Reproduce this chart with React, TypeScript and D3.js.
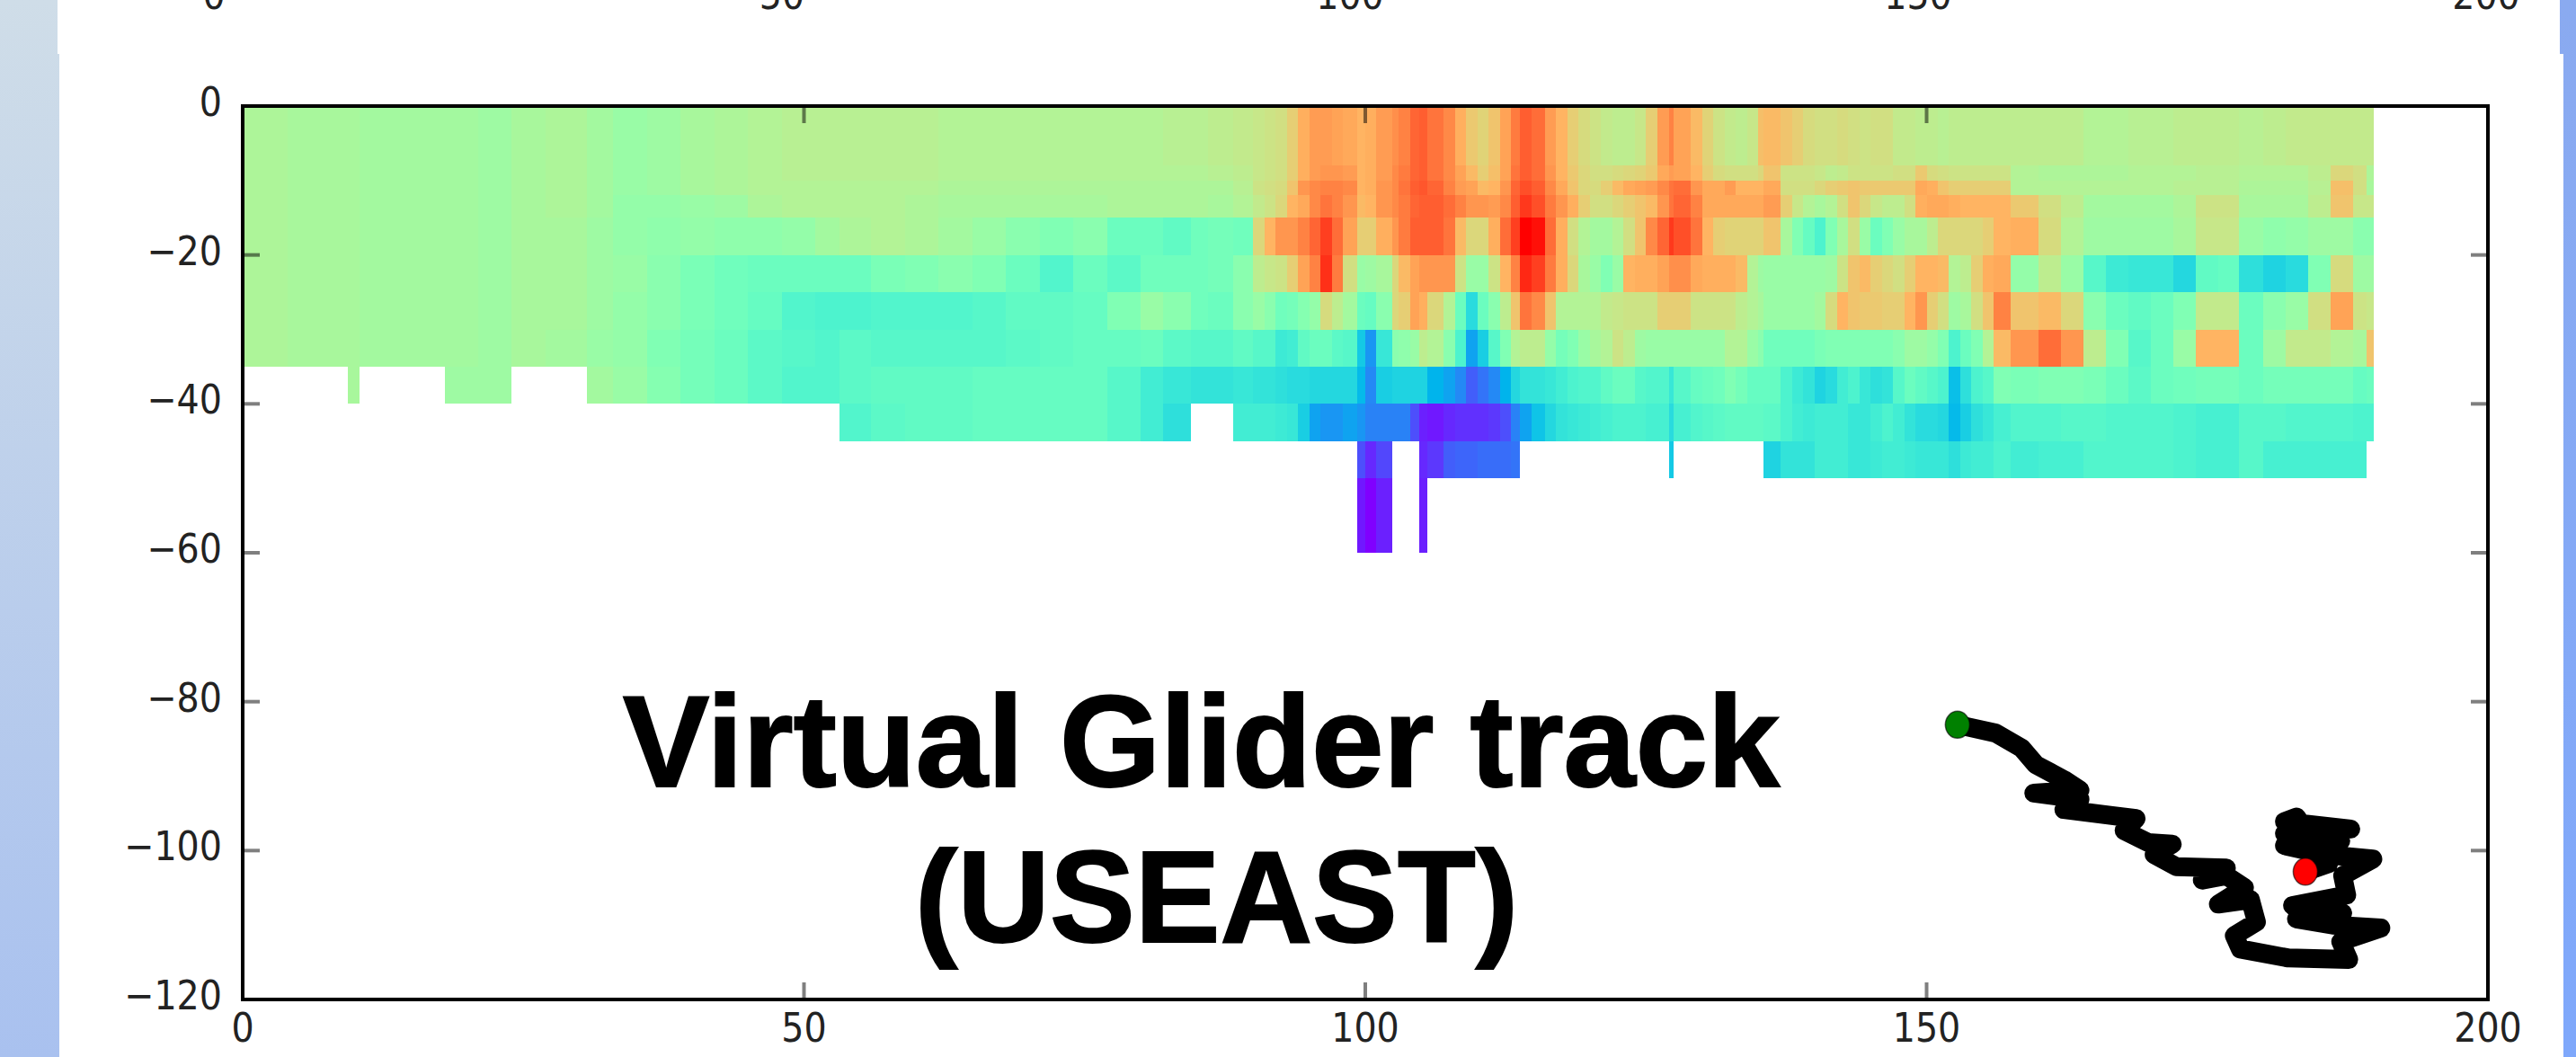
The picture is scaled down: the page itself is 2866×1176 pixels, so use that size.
import * as d3 from "d3";

const W = 2866;
const H = 1176;
const _ = null;

const xTicks = [0, 50, 100, 150, 200];
const yTicks = [0, -20, -40, -60, -80, -100, -120];
const titleLines = ["Virtual Glider track", "(USEAST)"];

// bottoms and tops of the depth bins (m)
const depthEdges = [0, 8, 10, 12, 15, 20, 25, 30, 35, 40, 45, 50, 60];

// the section is split in four stretches, each with its own column edges.
// values are the position on the rainbow colormap, 0-100
const edgesA = [0, 4, 8, 9.4, 10.4, 14, 18, 21, 23.9, 27, 30.7, 33, 36, 39, 42, 45, 48, 51, 53.2];
const heatA = [
  [59, 58, 58, 58, 57, 57, 57, 56, 58, 59, 57, 55, 56, 58, 59, 60, 61, 61],
  [59, 58, 58, 58, 57, 57, 57, 56, 58, 59, 57, 55, 56, 58, 59, 60, 61, 61],
  [59, 58, 58, 58, 57, 57, 57, 56, 58, 59, 57, 55, 56, 58, 59, 60, 60, 60],
  [59, 58, 58, 58, 57, 57, 57, 56, 58, 59, 57, 54, 54, 55, 56, 59, 60, 60],
  [59, 58, 58, 58, 57, 57, 57, 56, 58, 58, 56, 54, 53, 54, 53, 53, 54, 57],
  [59, 58, 58, 58, 57, 57, 57, 56, 58, 58, 56, 55, 52, 49, 47, 46, 46, 46],
  [59, 58, 58, 58, 57, 57, 57, 56, 58, 58, 56, 54, 52, 49, 47, 45, 41, 40],
  [59, 58, 58, 58, 57, 57, 57, 56, 58, 57, 55, 54, 50, 48, 46, 43, 42, 41],
  [_, _, _, 58, _, _, 56, 56, _, _, 57, 55, 51, 48, 46, 43, 41, 41],
  [],
  [],
  [],
];

const edgesB = [53.2, 56, 59, 62, 65, 68, 71, 74, 77, 80, 82, 84.5, 86, 88.2, 90];
const heatB = [
  [61, 61, 61, 60, 60, 60, 60, 60, 60, 60, 61, 61, 62, 63],
  [61, 61, 61, 60, 60, 60, 60, 60, 60, 60, 60, 60, 61, 62],
  [60, 60, 60, 59, 59, 59, 59, 59, 59, 59, 59, 59, 59, 61],
  [60, 60, 59, 58, 58, 58, 58, 58, 59, 59, 59, 59, 58, 60],
  [59, 60, 59, 57, 55, 52, 50, 52, 46, 46, 44, 47, 48, 47],
  [46, 49, 50, 52, 50, 46, 41, 46, 43, 47, 47, 47, 48, 52],
  [40, 41, 41, 41, 42, 44, 44, 45, 50, 55, 52, 47, 46, 52],
  [43, 42, 42, 42, 42, 43, 44, 45, 45, 46, 43, 42, 42, 44],
  [43, 44, 44, 44, 45, 45, 45, 45, 42, 38, 36, 35, 35, 36],
  [41, 43, 44, 44, 45, 45, 45, 45, 42, 38, 34, _, _, 38],
  [],
  [],
];

const edgesC = [
  90, 91, 92, 93, 94, 95, 96, 97, 98, 99.3, 100, 101, 102.4, 103, 104, 104.8, 105.5, 107, 108, 109,
  110, 111, 112, 113, 113.8, 114.8, 116, 117, 118, 119, 120, 121, 122, 123, 124, 125, 126, 127.1, 127.5, 129,
  130, 131, 132, 133, 134, 135, 135.5, 137, 138, 139, 140, 141, 142, 143, 144, 145, 146, 147, 148, 149,
  150, 151, 152, 153, 154, 155, 156, 157.5,
];
const heatC = [
  [
    64, 65, 66, 70, 76, 79, 79, 78, 77, 75,
    76, 79, 81, 83, 87, 88, 85, 82, 76, 71,
    69, 72, 78, 84, 88, 86, 79, 75, 70, 67,
    65, 63, 62, 62, 64, 70, 79, 83, 78, 74,
    69, 65, 63, 62, 64, 73, 74, 72, 70, 67,
    66, 66, 67, 66, 65, 66, 66, 63, 63, 62,
    62, 61, 62, 62, 62, 62, 62,
  ],
  [
    64, 65, 66, 70, 76, 79, 80, 80, 79, 75,
    76, 79, 82, 84, 87, 88, 85, 82, 78, 74,
    70, 73, 78, 85, 88, 86, 80, 75, 71, 68,
    66, 66, 67, 68, 69, 71, 77, 79, 78, 75,
    70, 67, 66, 66, 66, 68, 72, 65, 65, 65,
    64, 62, 63, 65, 65, 65, 65, 66, 66, 71,
    67, 66, 65, 65, 65, 65, 65,
  ],
  [
    65, 66, 67, 72, 80, 82, 83, 83, 82, 75,
    76, 80, 82, 85, 88, 89, 87, 83, 79, 78,
    74, 75, 80, 87, 90, 88, 82, 77, 72, 68,
    67, 70, 74, 77, 78, 79, 82, 85, 86, 80,
    77, 77, 79, 75, 75, 75, 77, 66, 66, 66,
    68, 70, 71, 72, 71, 71, 71, 71, 71, 77,
    76, 72, 70, 70, 70, 70, 70,
  ],
  [
    63, 65, 68, 75, 77, 82, 85, 83, 80, 74,
    75, 80, 82, 84, 87, 88, 88, 86, 83, 80,
    80, 79, 82, 88, 93, 90, 84, 80, 76, 70,
    66, 66, 68, 70, 72, 74, 80, 85, 87, 83,
    77, 77, 77, 77, 77, 77, 79, 70, 64, 60,
    58, 60, 66, 72, 68, 64, 62, 62, 66, 76,
    77, 77, 76, 75, 75, 75, 75,
  ],
  [
    68, 75, 80, 80, 83, 87, 92, 86, 78, 70,
    70, 76, 80, 84, 88, 88, 88, 85, 74, 68,
    68, 76, 86, 92, 100, 98, 86, 76, 66, 60,
    57, 57, 60, 66, 72, 82, 87, 93, 90, 85,
    75, 70, 69, 69, 69, 69, 72, 58, 50, 45,
    40, 50, 58, 66, 55, 46, 50, 55, 58, 58,
    62, 68, 68, 68, 68, 70, 75,
  ],
  [
    62, 64, 65, 70, 78, 83, 94, 84, 66, 55,
    56, 58, 68, 74, 78, 80, 80, 80, 65, 55,
    55, 65, 75, 83, 95, 92, 84, 76, 68, 58,
    55, 50, 55, 75, 76, 76, 78, 81, 81, 77,
    76, 76, 76, 74, 60, 56, 55, 55, 55, 55,
    55, 56, 65, 72, 74, 70, 68, 66, 70, 75,
    75, 74, 60, 62, 70, 76, 77,
  ],
  [
    55, 52, 47, 48, 51, 54, 67, 62, 57, 46,
    45, 52, 68, 70, 78, 76, 68, 60, 46, 33,
    46, 52, 62, 72, 85, 82, 72, 60, 60, 60,
    60, 63, 64, 65, 65, 65, 70, 70, 70, 65,
    65, 65, 65, 62, 60, 58, 55, 55, 55, 55,
    57, 67, 75, 72, 71, 71, 70, 70, 75, 80,
    70, 66, 56, 58, 66, 72, 83,
  ],
  [
    42, 42, 37, 38, 44, 46, 46, 43, 42, 29,
    20, 36, 52, 53, 55, 62, 60, 52, 40, 22,
    30, 42, 50, 60, 62, 62, 54, 48, 50, 55,
    58, 60, 65, 62, 56, 55, 55, 55, 55, 55,
    55, 55, 60, 60, 55, 52, 47, 47, 47, 47,
    49, 50, 50, 50, 50, 50, 50, 52, 56, 56,
    54, 50, 40, 46, 50, 60, 74,
  ],
  [
    35, 35, 34, 33, 33, 32, 32, 32, 32, 26,
    18, 30, 31, 31, 31, 31, 25, 22, 18, 12,
    15, 18, 25, 32, 35, 35, 36, 38, 40, 41,
    41, 44, 46, 46, 42, 41, 41, 36, 42, 45,
    46, 47, 50, 48, 45, 45, 45, 40, 37, 35,
    31, 33, 38, 40, 36, 34, 35, 42, 46, 44,
    42, 40, 27, 34, 40, 42, 50,
  ],
  [
    38, 38, 37, 36, 30, 22, 20, 20, 22, 20,
    17, 17, 17, 17, 10, 4, 3, 5, 6, 6,
    6, 7, 10, 17, 22, 28, 32, 35, 36, 37,
    38, 39, 40, 40, 40, 39, 39, 33, 39, 41,
    42, 43, 44, 44, 44, 44, 43, 40, 38, 37,
    38, 38, 38, 36, 36, 38, 40, 38, 35, 33,
    33, 32, 26, 30, 34, 36, 39,
  ],
  [
    _, _, _, _, _, _, _, _, _, 10,
    5, 9, _, _, _, 5, 7, 12, 13, 13,
    14, 14, 14, 15, _, _, _, _, _, _,
    _, _, _, _, _, _, _, 29, _, _,
    _, _, _, _, _, _, 31, 35, 35, 35,
    38, 38, 38, 36, 36, 37, 38, 38, 37, 36,
    36, 36, 34, 37, 38, 38, 40,
  ],
  [_, _, _, _, _, _, _, _, _, 3, 0, 4, _, _, _, 4],
];

const edgesD = [157.5, 160, 162, 164, 166, 168, 170, 172, 174, 176, 177.8, 180, 182, 184, 186, 188, 189.2, 189.8];
const heatD = [
  [62, 62, 62, 60, 60, 61, 61, 62, 62, 62, 61, 62, 63, 63, 63, 63, 63],
  [60, 59, 59, 59, 59, 60, 60, 60, 61, 61, 60, 60, 60, 62, 68, 66, 59],
  [60, 60, 60, 60, 60, 60, 60, 61, 61, 61, 59, 59, 59, 61, 73, 66, 58],
  [71, 66, 62, 57, 57, 57, 57, 59, 65, 65, 58, 58, 58, 62, 72, 64, 64],
  [76, 67, 60, 56, 56, 56, 56, 58, 64, 64, 55, 53, 54, 56, 56, 52, 52],
  [54, 62, 55, 42, 37, 36, 36, 32, 44, 45, 34, 31, 33, 50, 67, 56, 56],
  [72, 74, 68, 52, 46, 44, 46, 50, 63, 63, 46, 52, 55, 66, 78, 65, 64],
  [80, 86, 80, 62, 50, 42, 46, 55, 75, 75, 46, 56, 63, 63, 60, 58, 72],
  [49, 50, 50, 49, 46, 43, 46, 47, 48, 48, 46, 48, 48, 48, 48, 45, 46],
  [41, 41, 42, 42, 41, 41, 41, 40, 39, 39, 42, 42, 41, 41, 41, 40, 40],
  [38, 39, 39, 41, 41, 41, 41, 40, 39, 39, 42, 39, 39, 39, 39, 39],
  [],
];

const sections = [
  { edges: edgesA, rows: heatA },
  { edges: edgesB, rows: heatB },
  { edges: edgesC, rows: heatC },
  { edges: edgesD, rows: heatD },
];

// glider track, drawn over the same axes
const trackX = [
  152.75, 156.15, 158.47, 159.72, 162.23, 163.66, 159.55, 163.66, 162.23, 166.51, 168.66, 167.59, 169.73, 171.88, 170.27,
  172.23, 176.7, 174.56, 176.7, 178.31, 175.99, 178.84, 179.38, 177.41, 177.95, 182.24, 187.6, 186.89, 190.46, 186.17,
  182.95, 187.06, 182.6, 187.42, 187.06, 189.75, 185.46, 181.88, 186.89, 181.88, 187.78, 181.88, 182.95, 185.81, 183.74,
];
const trackY = [
  -83.1, -84.22, -86.24, -88.45, -90.47, -91.88, -92.28, -93.09, -94.49, -95.3, -95.7, -97.31, -98.93, -99.13, -100.54,
  -102.15, -102.35, -103.96, -103.36, -104.97, -107.18, -106.58, -109.6, -111.41, -113.22, -114.43, -114.63, -112.22, -110.4, -110.0,
  -109.19, -108.39, -107.38, -105.97, -103.36, -101.14, -100.54, -99.33, -98.72, -97.72, -97.11, -96.11, -95.5, -101.74, -102.83,
];

const x = d3.scaleLinear().domain([0, 200]).range([270, 2768]);
const y = d3.scaleLinear().domain([0, -120]).range([118, 1112]);
// the axis of the plot above, cut off by the top of the slide
const xAbove = d3.scaleLinear().domain([0, 200]).range([238, 2766]);

// matplotlib "rainbow"
const rainbow = d3.scaleSequential((t: number) => {
  const r = Math.abs(2 * t - 0.5);
  const g = Math.sin(Math.PI * t);
  const b = Math.cos((Math.PI * t) / 2);
  return d3.rgb(r * 255, g * 255, b * 255).formatHex();
}).domain([0, 100]);

const tickLabel = (v: number) => String(v).replace("-", "\u2212");

const trackPath = d3
  .line<number>()
  .x((d) => x(trackX[d]))
  .y((d) => y(trackY[d]))(d3.range(trackX.length));

const tickStyle = { stroke: "#000", strokeOpacity: 0.5, strokeWidth: 4 };
const labelStyle = { fontFamily: "DejaVu Sans", fontSize: 45, fill: "#222" };

export default function App() {
  const [x0, x1] = x.range();
  const [y0, y1] = y.range();
  return (
    <svg width={W} height={H} style={{ position: "absolute", left: 0, top: 0, display: "block" }}>
      <defs>
        <linearGradient id="leftBand" x1="0" y1="0" x2="0" y2="1">
          <stop offset="0" stopColor="#cfdde8" />
          <stop offset="1" stopColor="#a9c1ef" />
        </linearGradient>
        <linearGradient id="rightBand" x1="0" y1="0" x2="0" y2="1">
          <stop offset="0" stopColor="#8aaaf0" />
          <stop offset="1" stopColor="#7fa8fb" />
        </linearGradient>
      </defs>
      <rect x={0} y={0} width={70} height={H} fill="url(#leftBand)" />
      <rect x={2840} y={0} width={26} height={H} fill="url(#rightBand)" />
      <rect x={64} y={0} width={2784} height={60} fill="#fff" />
      <rect x={66} y={60} width={2786} height={H - 60} fill="#fff" />

      {xTicks.map((t) => (
        <text key={t} transform={`translate(${xAbove(t)},10) scale(0.88,1)`} textAnchor="middle" {...labelStyle}>
          {t}
        </text>
      ))}

      <g shapeRendering="crispEdges">
        {sections.map((s, si) =>
          s.rows.map((row, ri) =>
            row.map((v, ci) =>
              v === null ? null : (
                <rect
                  key={`${si}-${ri}-${ci}`}
                  x={x(s.edges[ci])}
                  y={y(-depthEdges[ri])}
                  width={x(s.edges[ci + 1]) - x(s.edges[ci])}
                  height={y(-depthEdges[ri + 1]) - y(-depthEdges[ri])}
                  fill={rainbow(v)}
                />
              )
            )
          )
        )}
      </g>

      {xTicks.map((t) => (
        <g key={t}>
          <line x1={x(t)} x2={x(t)} y1={y0} y2={y0 + 19} {...tickStyle} />
          <line x1={x(t)} x2={x(t)} y1={y1} y2={y1 - 19} {...tickStyle} />
          <text transform={`translate(${x(t)},1159) scale(0.88,1)`} textAnchor="middle" {...labelStyle}>
            {t}
          </text>
        </g>
      ))}
      {yTicks.map((t) => (
        <g key={t}>
          <line x1={x0} x2={x0 + 19} y1={y(t)} y2={y(t)} {...tickStyle} />
          <line x1={x1} x2={x1 - 19} y1={y(t)} y2={y(t)} {...tickStyle} />
          <text transform={`translate(247,${y(t) + 11}) scale(0.88,1)`} textAnchor="end" {...labelStyle}>
            {tickLabel(t)}
          </text>
        </g>
      ))}
      <rect x={x0} y={y0} width={x1 - x0} height={y1 - y0} fill="none" stroke="#000" strokeWidth={4} />

      <g fontFamily="Liberation Sans" fontWeight="bold" fontSize={144} fill="#000" stroke="#000" strokeWidth={2}>
        <text x={693} y={875} textLength={1287} lengthAdjust="spacingAndGlyphs">
          {titleLines[0]}
        </text>
        <text x={1018} y={1048} textLength={671} lengthAdjust="spacingAndGlyphs">
          {titleLines[1]}
        </text>
      </g>

      <path d={trackPath ?? ""} fill="none" stroke="#000" strokeWidth={21} strokeLinejoin="round" strokeLinecap="round" />
      <ellipse cx={x(trackX[0])} cy={y(trackY[0])} rx={13.5} ry={15} fill="#008000" stroke="#000" strokeOpacity={0.6} strokeWidth={1.5} />
      <ellipse
        cx={x(trackX[trackX.length - 1])}
        cy={y(trackY[trackY.length - 1])}
        rx={13.5}
        ry={15}
        fill="#ff0000"
        stroke="#000"
        strokeOpacity={0.6}
        strokeWidth={1.5}
      />
    </svg>
  );
}
